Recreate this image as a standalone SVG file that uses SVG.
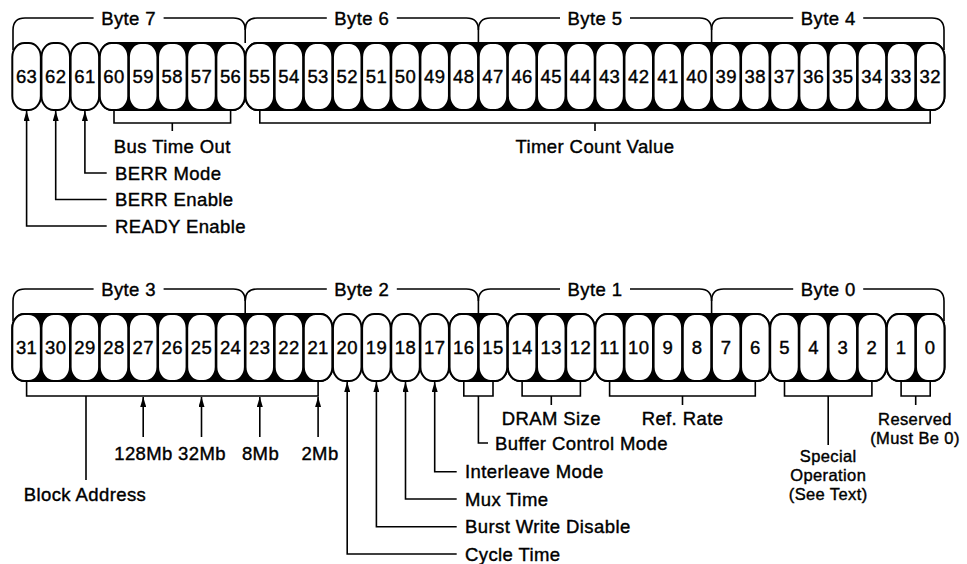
<svg xmlns="http://www.w3.org/2000/svg" width="967" height="564" viewBox="0 0 967 564">
<style>
text{font-family:"Liberation Sans",Arial,Helvetica,sans-serif;font-size:18.5px;fill:#000;stroke:#000;stroke-width:0.4;letter-spacing:0.4px}
.n text,text.m{text-anchor:middle}
text.s{font-size:16.5px}
.c{fill:#fff;stroke:#000;stroke-width:2}
.g{fill:#000;stroke:#000;stroke-width:2}
.ln{fill:none;stroke:#000;stroke-width:1.6}
.ar{fill:none;stroke:#000;stroke-width:1.6;marker-end:url(#ah)}
</style>
<defs>
<marker id="ah" markerUnits="userSpaceOnUse" viewBox="0 0 10 6" refX="10" refY="3" markerWidth="10" markerHeight="6" orient="auto"><path d="M0,0 L10,3 L0,6 Z" fill="#000"/></marker>
</defs>
<rect width="967" height="564" fill="#fff"/>

<!-- group backgrounds -->
<g id="groupBacks">
<rect class="g" x="99.75" y="43" width="145.15" height="67" rx="12" ry="14"/>
<rect class="g" x="245.5" y="43" width="699" height="67" rx="12" ry="14"/>
<rect class="g" x="12.3" y="314" width="320.05" height="67" rx="12" ry="14"/>
<rect class="g" x="449.55" y="314" width="57.7" height="67" rx="12" ry="14"/>
<rect class="g" x="507.85" y="314" width="86.85" height="67" rx="12" ry="14"/>
<rect class="g" x="595.3" y="314" width="174.3" height="67" rx="12" ry="14"/>
<rect class="g" x="770.2" y="314" width="116" height="67" rx="12" ry="14"/>
<rect class="g" x="886.8" y="314" width="57.7" height="67" rx="12" ry="14"/>
</g>

<!-- top row cells -->
<g class="n" id="bit63"><rect class="c" x="12.3" y="43" width="28.55" height="67" rx="12" ry="14"/><text x="26.6" y="83">63</text></g>
<g class="n" id="bit62"><rect class="c" x="41.45" y="43" width="28.55" height="67" rx="12" ry="14"/><text x="55.7" y="83">62</text></g>
<g class="n" id="bit61"><rect class="c" x="70.6" y="43" width="28.55" height="67" rx="12" ry="14"/><text x="84.9" y="83">61</text></g>
<g class="n" id="bit60"><rect class="c" x="99.75" y="43" width="28.55" height="67" rx="12" ry="14"/><text x="114" y="83">60</text></g>
<g class="n" id="bit59"><rect class="c" x="128.9" y="43" width="28.55" height="67" rx="12" ry="14"/><text x="143.2" y="83">59</text></g>
<g class="n" id="bit58"><rect class="c" x="158.05" y="43" width="28.55" height="67" rx="12" ry="14"/><text x="172.3" y="83">58</text></g>
<g class="n" id="bit57"><rect class="c" x="187.2" y="43" width="28.55" height="67" rx="12" ry="14"/><text x="201.5" y="83">57</text></g>
<g class="n" id="bit56"><rect class="c" x="216.35" y="43" width="28.55" height="67" rx="12" ry="14"/><text x="230.6" y="83">56</text></g>
<g class="n" id="bit55"><rect class="c" x="245.5" y="43" width="28.55" height="67" rx="12" ry="14"/><text x="259.8" y="83">55</text></g>
<g class="n" id="bit54"><rect class="c" x="274.65" y="43" width="28.55" height="67" rx="12" ry="14"/><text x="288.9" y="83">54</text></g>
<g class="n" id="bit53"><rect class="c" x="303.8" y="43" width="28.55" height="67" rx="12" ry="14"/><text x="318.1" y="83">53</text></g>
<g class="n" id="bit52"><rect class="c" x="332.95" y="43" width="28.55" height="67" rx="12" ry="14"/><text x="347.2" y="83">52</text></g>
<g class="n" id="bit51"><rect class="c" x="362.1" y="43" width="28.55" height="67" rx="12" ry="14"/><text x="376.4" y="83">51</text></g>
<g class="n" id="bit50"><rect class="c" x="391.25" y="43" width="28.55" height="67" rx="12" ry="14"/><text x="405.5" y="83">50</text></g>
<g class="n" id="bit49"><rect class="c" x="420.4" y="43" width="28.55" height="67" rx="12" ry="14"/><text x="434.7" y="83">49</text></g>
<g class="n" id="bit48"><rect class="c" x="449.55" y="43" width="28.55" height="67" rx="12" ry="14"/><text x="463.8" y="83">48</text></g>
<g class="n" id="bit47"><rect class="c" x="478.7" y="43" width="28.55" height="67" rx="12" ry="14"/><text x="493" y="83">47</text></g>
<g class="n" id="bit46"><rect class="c" x="507.85" y="43" width="28.55" height="67" rx="12" ry="14"/><text x="522.1" y="83">46</text></g>
<g class="n" id="bit45"><rect class="c" x="537" y="43" width="28.55" height="67" rx="12" ry="14"/><text x="551.3" y="83">45</text></g>
<g class="n" id="bit44"><rect class="c" x="566.15" y="43" width="28.55" height="67" rx="12" ry="14"/><text x="580.4" y="83">44</text></g>
<g class="n" id="bit43"><rect class="c" x="595.3" y="43" width="28.55" height="67" rx="12" ry="14"/><text x="609.6" y="83">43</text></g>
<g class="n" id="bit42"><rect class="c" x="624.45" y="43" width="28.55" height="67" rx="12" ry="14"/><text x="638.7" y="83">42</text></g>
<g class="n" id="bit41"><rect class="c" x="653.6" y="43" width="28.55" height="67" rx="12" ry="14"/><text x="667.9" y="83">41</text></g>
<g class="n" id="bit40"><rect class="c" x="682.75" y="43" width="28.55" height="67" rx="12" ry="14"/><text x="697" y="83">40</text></g>
<g class="n" id="bit39"><rect class="c" x="711.9" y="43" width="28.55" height="67" rx="12" ry="14"/><text x="726.2" y="83">39</text></g>
<g class="n" id="bit38"><rect class="c" x="741.05" y="43" width="28.55" height="67" rx="12" ry="14"/><text x="755.3" y="83">38</text></g>
<g class="n" id="bit37"><rect class="c" x="770.2" y="43" width="28.55" height="67" rx="12" ry="14"/><text x="784.5" y="83">37</text></g>
<g class="n" id="bit36"><rect class="c" x="799.35" y="43" width="28.55" height="67" rx="12" ry="14"/><text x="813.6" y="83">36</text></g>
<g class="n" id="bit35"><rect class="c" x="828.5" y="43" width="28.55" height="67" rx="12" ry="14"/><text x="842.8" y="83">35</text></g>
<g class="n" id="bit34"><rect class="c" x="857.65" y="43" width="28.55" height="67" rx="12" ry="14"/><text x="871.9" y="83">34</text></g>
<g class="n" id="bit33"><rect class="c" x="886.8" y="43" width="28.55" height="67" rx="12" ry="14"/><text x="901.1" y="83">33</text></g>
<g class="n" id="bit32"><rect class="c" x="915.95" y="43" width="28.55" height="67" rx="12" ry="14"/><text x="930.2" y="83">32</text></g>

<!-- bottom row cells -->
<g class="n" id="bit31"><rect class="c" x="12.3" y="314" width="28.55" height="67" rx="12" ry="14"/><text x="26.6" y="354">31</text></g>
<g class="n" id="bit30"><rect class="c" x="41.45" y="314" width="28.55" height="67" rx="12" ry="14"/><text x="55.7" y="354">30</text></g>
<g class="n" id="bit29"><rect class="c" x="70.6" y="314" width="28.55" height="67" rx="12" ry="14"/><text x="84.9" y="354">29</text></g>
<g class="n" id="bit28"><rect class="c" x="99.75" y="314" width="28.55" height="67" rx="12" ry="14"/><text x="114" y="354">28</text></g>
<g class="n" id="bit27"><rect class="c" x="128.9" y="314" width="28.55" height="67" rx="12" ry="14"/><text x="143.2" y="354">27</text></g>
<g class="n" id="bit26"><rect class="c" x="158.05" y="314" width="28.55" height="67" rx="12" ry="14"/><text x="172.3" y="354">26</text></g>
<g class="n" id="bit25"><rect class="c" x="187.2" y="314" width="28.55" height="67" rx="12" ry="14"/><text x="201.5" y="354">25</text></g>
<g class="n" id="bit24"><rect class="c" x="216.35" y="314" width="28.55" height="67" rx="12" ry="14"/><text x="230.6" y="354">24</text></g>
<g class="n" id="bit23"><rect class="c" x="245.5" y="314" width="28.55" height="67" rx="12" ry="14"/><text x="259.8" y="354">23</text></g>
<g class="n" id="bit22"><rect class="c" x="274.65" y="314" width="28.55" height="67" rx="12" ry="14"/><text x="288.9" y="354">22</text></g>
<g class="n" id="bit21"><rect class="c" x="303.8" y="314" width="28.55" height="67" rx="12" ry="14"/><text x="318.1" y="354">21</text></g>
<g class="n" id="bit20"><rect class="c" x="332.95" y="314" width="28.55" height="67" rx="12" ry="14"/><text x="347.2" y="354">20</text></g>
<g class="n" id="bit19"><rect class="c" x="362.1" y="314" width="28.55" height="67" rx="12" ry="14"/><text x="376.4" y="354">19</text></g>
<g class="n" id="bit18"><rect class="c" x="391.25" y="314" width="28.55" height="67" rx="12" ry="14"/><text x="405.5" y="354">18</text></g>
<g class="n" id="bit17"><rect class="c" x="420.4" y="314" width="28.55" height="67" rx="12" ry="14"/><text x="434.7" y="354">17</text></g>
<g class="n" id="bit16"><rect class="c" x="449.55" y="314" width="28.55" height="67" rx="12" ry="14"/><text x="463.8" y="354">16</text></g>
<g class="n" id="bit15"><rect class="c" x="478.7" y="314" width="28.55" height="67" rx="12" ry="14"/><text x="493" y="354">15</text></g>
<g class="n" id="bit14"><rect class="c" x="507.85" y="314" width="28.55" height="67" rx="12" ry="14"/><text x="522.1" y="354">14</text></g>
<g class="n" id="bit13"><rect class="c" x="537" y="314" width="28.55" height="67" rx="12" ry="14"/><text x="551.3" y="354">13</text></g>
<g class="n" id="bit12"><rect class="c" x="566.15" y="314" width="28.55" height="67" rx="12" ry="14"/><text x="580.4" y="354">12</text></g>
<g class="n" id="bit11"><rect class="c" x="595.3" y="314" width="28.55" height="67" rx="12" ry="14"/><text x="609.6" y="354">11</text></g>
<g class="n" id="bit10"><rect class="c" x="624.45" y="314" width="28.55" height="67" rx="12" ry="14"/><text x="638.7" y="354">10</text></g>
<g class="n" id="bit9"><rect class="c" x="653.6" y="314" width="28.55" height="67" rx="12" ry="14"/><text x="667.9" y="354">9</text></g>
<g class="n" id="bit8"><rect class="c" x="682.75" y="314" width="28.55" height="67" rx="12" ry="14"/><text x="697" y="354">8</text></g>
<g class="n" id="bit7"><rect class="c" x="711.9" y="314" width="28.55" height="67" rx="12" ry="14"/><text x="726.2" y="354">7</text></g>
<g class="n" id="bit6"><rect class="c" x="741.05" y="314" width="28.55" height="67" rx="12" ry="14"/><text x="755.3" y="354">6</text></g>
<g class="n" id="bit5"><rect class="c" x="770.2" y="314" width="28.55" height="67" rx="12" ry="14"/><text x="784.5" y="354">5</text></g>
<g class="n" id="bit4"><rect class="c" x="799.35" y="314" width="28.55" height="67" rx="12" ry="14"/><text x="813.6" y="354">4</text></g>
<g class="n" id="bit3"><rect class="c" x="828.5" y="314" width="28.55" height="67" rx="12" ry="14"/><text x="842.8" y="354">3</text></g>
<g class="n" id="bit2"><rect class="c" x="857.65" y="314" width="28.55" height="67" rx="12" ry="14"/><text x="871.9" y="354">2</text></g>
<g class="n" id="bit1"><rect class="c" x="886.8" y="314" width="28.55" height="67" rx="12" ry="14"/><text x="901.1" y="354">1</text></g>
<g class="n" id="bit0"><rect class="c" x="915.95" y="314" width="28.55" height="67" rx="12" ry="14"/><text x="930.2" y="354">0</text></g>

<!-- byte labels -->
<g id="byteLabels">
<text class="m" x="128.6" y="25">Byte 7</text>
<text class="m" x="361.8" y="25">Byte 6</text>
<text class="m" x="595" y="25">Byte 5</text>
<text class="m" x="828.2" y="25">Byte 4</text>
<text class="m" x="128.6" y="296">Byte 3</text>
<text class="m" x="361.8" y="296">Byte 2</text>
<text class="m" x="595" y="296">Byte 1</text>
<text class="m" x="828.2" y="296">Byte 0</text>
</g>

<!-- field labels -->
<g id="fieldLabels">
<text class="m" x="172.3" y="153">Bus Time Out</text>
<text class="m" x="595" y="153">Timer Count Value</text>
<text x="115" y="179.5">BERR Mode</text>
<text x="115" y="206">BERR Enable</text>
<text x="115" y="232.5">READY Enable</text>
<text class="m" x="85" y="500.5">Block Address</text>
<text class="m" x="143.5" y="459.5">128Mb</text>
<text class="m" x="202" y="459.5">32Mb</text>
<text class="m" x="260.5" y="459.5">8Mb</text>
<text class="m" x="320" y="459.5">2Mb</text>
<text x="465" y="478">Interleave Mode</text>
<text x="465" y="505.5">Mux Time</text>
<text x="465" y="533">Burst Write Disable</text>
<text x="465" y="560.5">Cycle Time</text>
<text x="495" y="449.5">Buffer Control Mode</text>
<text class="m" x="551.3" y="425">DRAM Size</text>
<text class="m" x="682.5" y="425">Ref. Rate</text>
<text class="m s" x="828.2" y="462">Special</text>
<text class="m s" x="828.2" y="481">Operation</text>
<text class="m s" x="828.2" y="500">(See Text)</text>
<text class="m s" x="915" y="425">Reserved</text>
<text class="m s" x="915" y="444">(Must Be 0)</text>
</g>

<!-- connectors -->
<g id="connectors">
<path class="ln" d="M13,50 V30 Q13,18 25,18 H93.6 M163.6,18 H233.2 Q245.2,18 245.2,30 V43"/>
<path class="ln" d="M245.2,30 Q245.2,18 257.2,18 H326.8 M396.8,18 H466.4 Q478.4,18 478.4,30 V43"/>
<path class="ln" d="M478.4,30 Q478.4,18 490.4,18 H560 M630,18 H699.6 Q711.6,18 711.6,30 V43"/>
<path class="ln" d="M711.6,30 Q711.6,18 723.6,18 H793.2 M863.2,18 H932 Q944,18 944,30 V50"/>
<path class="ln" d="M13,321 V301 Q13,289 25,289 H93.6 M163.6,289 H233.2 Q245.2,289 245.2,301 V314"/>
<path class="ln" d="M245.2,301 Q245.2,289 257.2,289 H326.8 M396.8,289 H466.4 Q478.4,289 478.4,301 V314"/>
<path class="ln" d="M478.4,301 Q478.4,289 490.4,289 H560 M630,289 H699.6 Q711.6,289 711.6,301 V314"/>
<path class="ln" d="M711.6,301 Q711.6,289 723.6,289 H793.2 M863.2,289 H932 Q944,289 944,301 V321"/>
<path class="ln" d="M114,110 V123 H230.6 V110 M172.3,123 V131"/>
<path class="ln" d="M259.8,110 V123 H930.2 V110 M595,123 V131"/>
<path class="ar" d="M106.7,173 H84.9 V111"/>
<path class="ar" d="M106.7,199.5 H55.7 V111"/>
<path class="ar" d="M106.7,226 H26.6 V111"/>
<path class="ln" d="M26.6,381 V396 H318.1 V381 M86,396 V480"/>
<path class="ln" d="M463.8,381 V396 H493 V381 M478.4,396 V443 H488"/>
<path class="ln" d="M522.1,381 V396 H580.4 V381 M551.3,396 V405"/>
<path class="ln" d="M609.6,381 V396 H755.3 V381 M682.5,396 V405"/>
<path class="ln" d="M784.5,381 V396 H871.9 V381 M828.2,396 V445"/>
<path class="ln" d="M901.1,381 V396 H930.2 V381 M915.7,396 V405"/>
<path class="ar" d="M143.2,437 V397"/>
<path class="ar" d="M201.5,437 V397"/>
<path class="ar" d="M259.8,437 V397"/>
<path class="ar" d="M318.1,437 V397"/>
<path class="ar" d="M456.7,471.7 H434.7 V382"/>
<path class="ar" d="M456.7,499 H405.5 V382"/>
<path class="ar" d="M456.7,526.7 H376.4 V382"/>
<path class="ar" d="M456.7,554 H347.2 V382"/>
</g>
</svg>
